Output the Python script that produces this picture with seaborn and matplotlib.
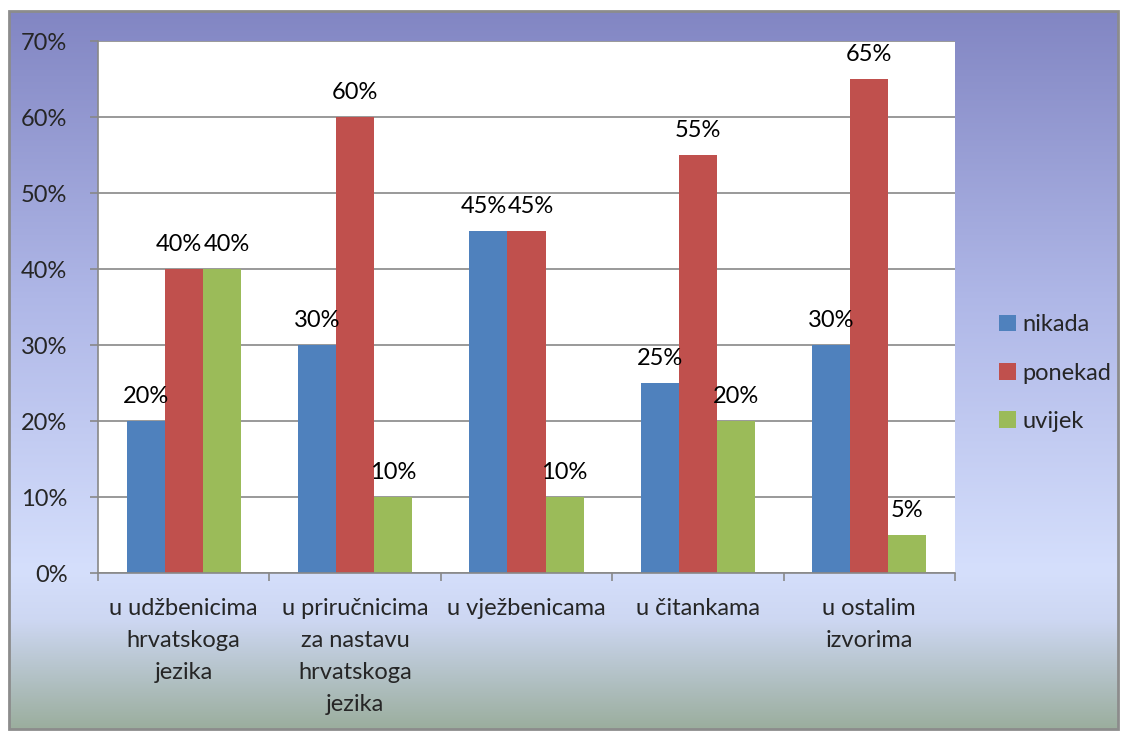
import numpy as np
import pandas as pd
import matplotlib
matplotlib.use("Agg")
import matplotlib.pyplot as plt
import seaborn as sns
from matplotlib.colors import LinearSegmentedColormap
from matplotlib.patches import Rectangle

categories = ["u udžbenicima\nhrvatskoga\njezika",
              "u priručnicima\nza nastavu\nhrvatskoga\njezika",
              "u vježbenicama",
              "u čitankama",
              "u ostalim\nizvorima"]
series_names = ["nikada", "ponekad", "uvijek"]
nikada = [20, 30, 45, 25, 30]
ponekad = [40, 60, 45, 55, 65]
uvijek = [40, 10, 10, 20, 5]
y_ticks = [0, 10, 20, 30, 40, 50, 60, 70]
palette = ["#4F81BD", "#C0504D", "#9BBB59"]

rows = []
for name, vals in zip(series_names, [nikada, ponekad, uvijek]):
    for cat, v in zip(categories, vals):
        rows.append({"cat": cat, "serie": name, "val": v})
df = pd.DataFrame(rows)

sns.set_theme(style="white")
plt.rcParams["font.family"] = ["Lato", "DejaVu Sans"]
FS = 17

fig = plt.figure(figsize=(11.27, 7.31), dpi=100)
fig.patch.set_facecolor("white")

# gradient background inside frame
bg_l, bg_r = 9 / 1127, 1118 / 1127
bg_b, bg_t = 1 - 729 / 731, 1 - 11 / 731
bg = fig.add_axes([bg_l, bg_b, bg_r - bg_l, bg_t - bg_b], zorder=-5)
grad_cmap = LinearSegmentedColormap.from_list("bg", [
    (0.0, "#8286C3"), (0.40, "#AFB7E7"), (0.78, "#D5DFFC"),
    (0.85, "#CDD7F2"), (1.0, "#9BAE9E")])
bg.imshow(np.linspace(0, 1, 256).reshape(-1, 1), cmap=grad_cmap,
          aspect="auto", extent=[0, 1, 0, 1])
bg.set_axis_off()
fig.patches.append(Rectangle((bg_l, bg_b), bg_r - bg_l, bg_t - bg_b,
                             transform=fig.transFigure, fill=False,
                             edgecolor="#8C8C8C", linewidth=2.0, zorder=10))

ax = fig.add_axes([98 / 1127, 1 - 573 / 731, (955 - 98) / 1127, (573 - 41) / 731])
ax.set_facecolor("white")

sns.barplot(data=df, x="cat", y="val", hue="serie", hue_order=series_names,
            order=categories, palette=palette, width=0.667, gap=0,
            saturation=1, linewidth=0, ax=ax)

# value labels; nudge apart labels of equal neighbouring bars (like Excel does)
conts = ax.containers[:len(series_names)]
for si, cont in enumerate(conts):
    for ci, b in enumerate(cont):
        h = b.get_height()
        dx, dy = 0, 10
        if si + 1 < len(conts) and conts[si + 1][ci].get_height() == h:
            dx -= 3.5
        if si > 0 and conts[si - 1][ci].get_height() == h:
            dx += 3.5
        ax.annotate(f"{int(h)}%", (b.get_x() + b.get_width() / 2, h),
                    xytext=(dx, dy), textcoords="offset points",
                    ha="center", va="bottom", fontsize=FS, color="black")

ax.set_ylim(0, 70)
ax.set_xlim(-0.5, len(categories) - 0.5)
ax.set_yticks(y_ticks)
ax.set_yticklabels([f"{t}%" for t in y_ticks], fontsize=FS)
ax.yaxis.grid(True, color="#888888", linewidth=1.2)
ax.set_axisbelow(True)
ax.tick_params(axis="y", length=6, width=1.2, color="#888888", pad=16, left=True)
ax.set_xticks(range(len(categories)))
ax.set_xticklabels(categories, fontsize=FS, linespacing=1.65)
ax.tick_params(axis="x", which="major", length=0, pad=18)
ax.set_xticks(np.arange(-0.5, len(categories), 1), minor=True)
ax.tick_params(axis="x", which="minor", length=6, width=1.2, color="#888888", bottom=True)
ax.set_xlabel("")
ax.set_ylabel("")
for s in ["top", "right"]:
    ax.spines[s].set_visible(False)
for s in ["left", "bottom"]:
    ax.spines[s].set_color("#888888")
    ax.spines[s].set_linewidth(1.2)

handles, labels = ax.get_legend_handles_labels()
ax.legend(handles, labels, loc="center left", bbox_to_anchor=(978 / 1127, 1 - 373 / 731),
          bbox_transform=fig.transFigure, frameon=False, fontsize=FS,
          handlelength=0.7, handleheight=0.7, handletextpad=0.3, labelspacing=1.15)

fig.savefig("out.png", dpi=100, facecolor="white")
